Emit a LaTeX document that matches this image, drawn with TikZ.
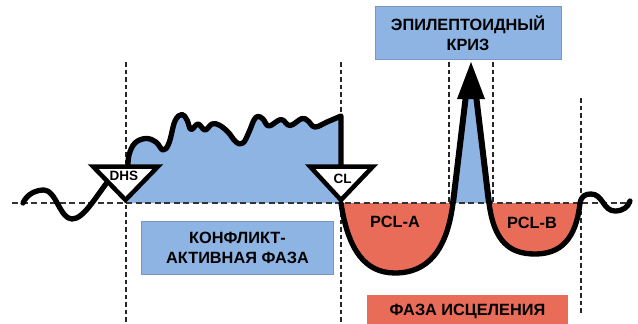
\documentclass[tikz,border=0pt]{standalone}
\usepackage{fontspec}
\setmainfont{Liberation Sans}
\definecolor{bfill}{RGB}{141,180,226}
\definecolor{bedge}{RGB}{120,150,195}
\definecolor{rfill}{RGB}{233,108,88}
\tikzset{
  vdash/.style={line width=2.6pt, dash pattern=on 4.5pt off 3pt, black!85},
  hdash/.style={line width=2pt, dash pattern=on 6pt off 3.5pt, black!80},
  curve/.style={line width=5.3pt, line cap=round, line join=round},
  leg/.style={line width=6pt, line cap=butt, line join=round},
  tri/.style={line width=4.5pt, fill=white, line join=miter},
  lbl/.style={font=\fontsize{16.3}{20}\selectfont\bfseries, align=center, inner sep=0pt},
  smalllbl/.style={font=\fontsize{13.5}{15}\selectfont\bfseries, inner sep=0pt},
  bluebox/.style={fill=bfill, draw=bedge, line width=0.7pt, inner sep=0pt},
  wavy/.style={smooth, tension=0.65},
}
\def\wavetop{(128,167) (129,155) (135,143) (146,138.5) (156,142) (163,150) (169,143) (175,121) (182,114.5) (187,120) (191,129.5) (198,124) (205,130) (212,124) (219,125) (228,132) (236,142) (243,143) (249,132) (254,120) (258,116.5) (263,119) (269,126) (281,119.5) (290,125.5) (302,118.5) (308,121) (315,127) (327,122) (341,116)}
\begin{document}
\begin{tikzpicture}[x=1pt,y=-1pt]
\useasboundingbox (0,0) rectangle (638,324);
% vertical dashed guides
\draw[vdash] (126,62) -- (126,324);
\draw[vdash] (341,62) -- (341,324);
\draw[vdash] (449,62) -- (449,203);
\draw[vdash] (493,62) -- (493,203);
\draw[vdash] (581,98) -- (581,314);
% blue conflict region
\fill[bfill] plot[wavy] coordinates {\wavetop} -- (341,203) -- (124,203) -- cycle;
% blue spike
\fill[bfill] (454,203) -- (466,97) -- (476,97) -- (489,203) -- cycle;
% red healing regions
\fill[rfill] (341,203) .. controls (348,250) and (365,273) .. (395,273) .. controls (428,273) and (447,250) .. (453,203) -- cycle;
\fill[rfill] (489,203) .. controls (494,242) and (510,254) .. (535,254) .. controls (560,254) and (576,240) .. (580,203) -- cycle;
% baseline
\draw[hdash] (12,203) -- (632,203);
% black curves
\draw[curve] (23,203) .. controls (27,194) and (36,190) .. (44,190) .. controls (56,190) and (60,219) .. (72,219) .. controls (84,219) and (96,196) .. (112,176);
\draw[curve] plot[wavy] coordinates {\wavetop} -- (341,167);
\draw[curve] (341,203) .. controls (348,250) and (365,273) .. (395,273) .. controls (428,273) and (447,250) .. (453,203);
\draw[leg] (453,203) -- (466,95);
\draw[leg] (476,95) -- (489,203);
\draw[curve] (489,203) .. controls (494,242) and (510,254) .. (535,254) .. controls (560,254) and (576,240) .. (580,203) .. controls (581.5,196) and (585,194) .. (591,194) .. controls (603,194) and (603,211) .. (615,211) .. controls (623,211) and (628,207) .. (630,201);
\fill (471,62) -- (457,99) -- (485,99) -- cycle;
% triangles
\draw[tri] (93,166.5) -- (158,166.5) -- (125.5,200) -- cycle;
\draw[tri] (310,166.5) -- (373,166.5) -- (341,200) -- cycle;
\node[smalllbl] (dhs) at (124,176) {DHS};
\node[smalllbl] (cl) at (342.5,179) {CL};
% labels
\node[lbl] (pcla) at (395,222) {PCL-A};
\node[lbl] (pclb) at (532,222.5) {PCL-B};
\node[bluebox, lbl, minimum width=186pt, minimum height=52.6pt] (crisis) at (468,33) {ЭПИЛЕПТОИДНЫЙ\\КРИЗ};
\node[bluebox, lbl, minimum width=191.6pt, minimum height=52.6pt] (conflict) at (237.5,248) {КОНФЛИКТ-\\АКТИВНАЯ ФАЗА};
\fill[rfill] (367,295) rectangle (568,326);
\node[lbl] (heal) at (467.5,311.5) {ФАЗА ИСЦЕЛЕНИЯ};
\end{tikzpicture}
\end{document}
